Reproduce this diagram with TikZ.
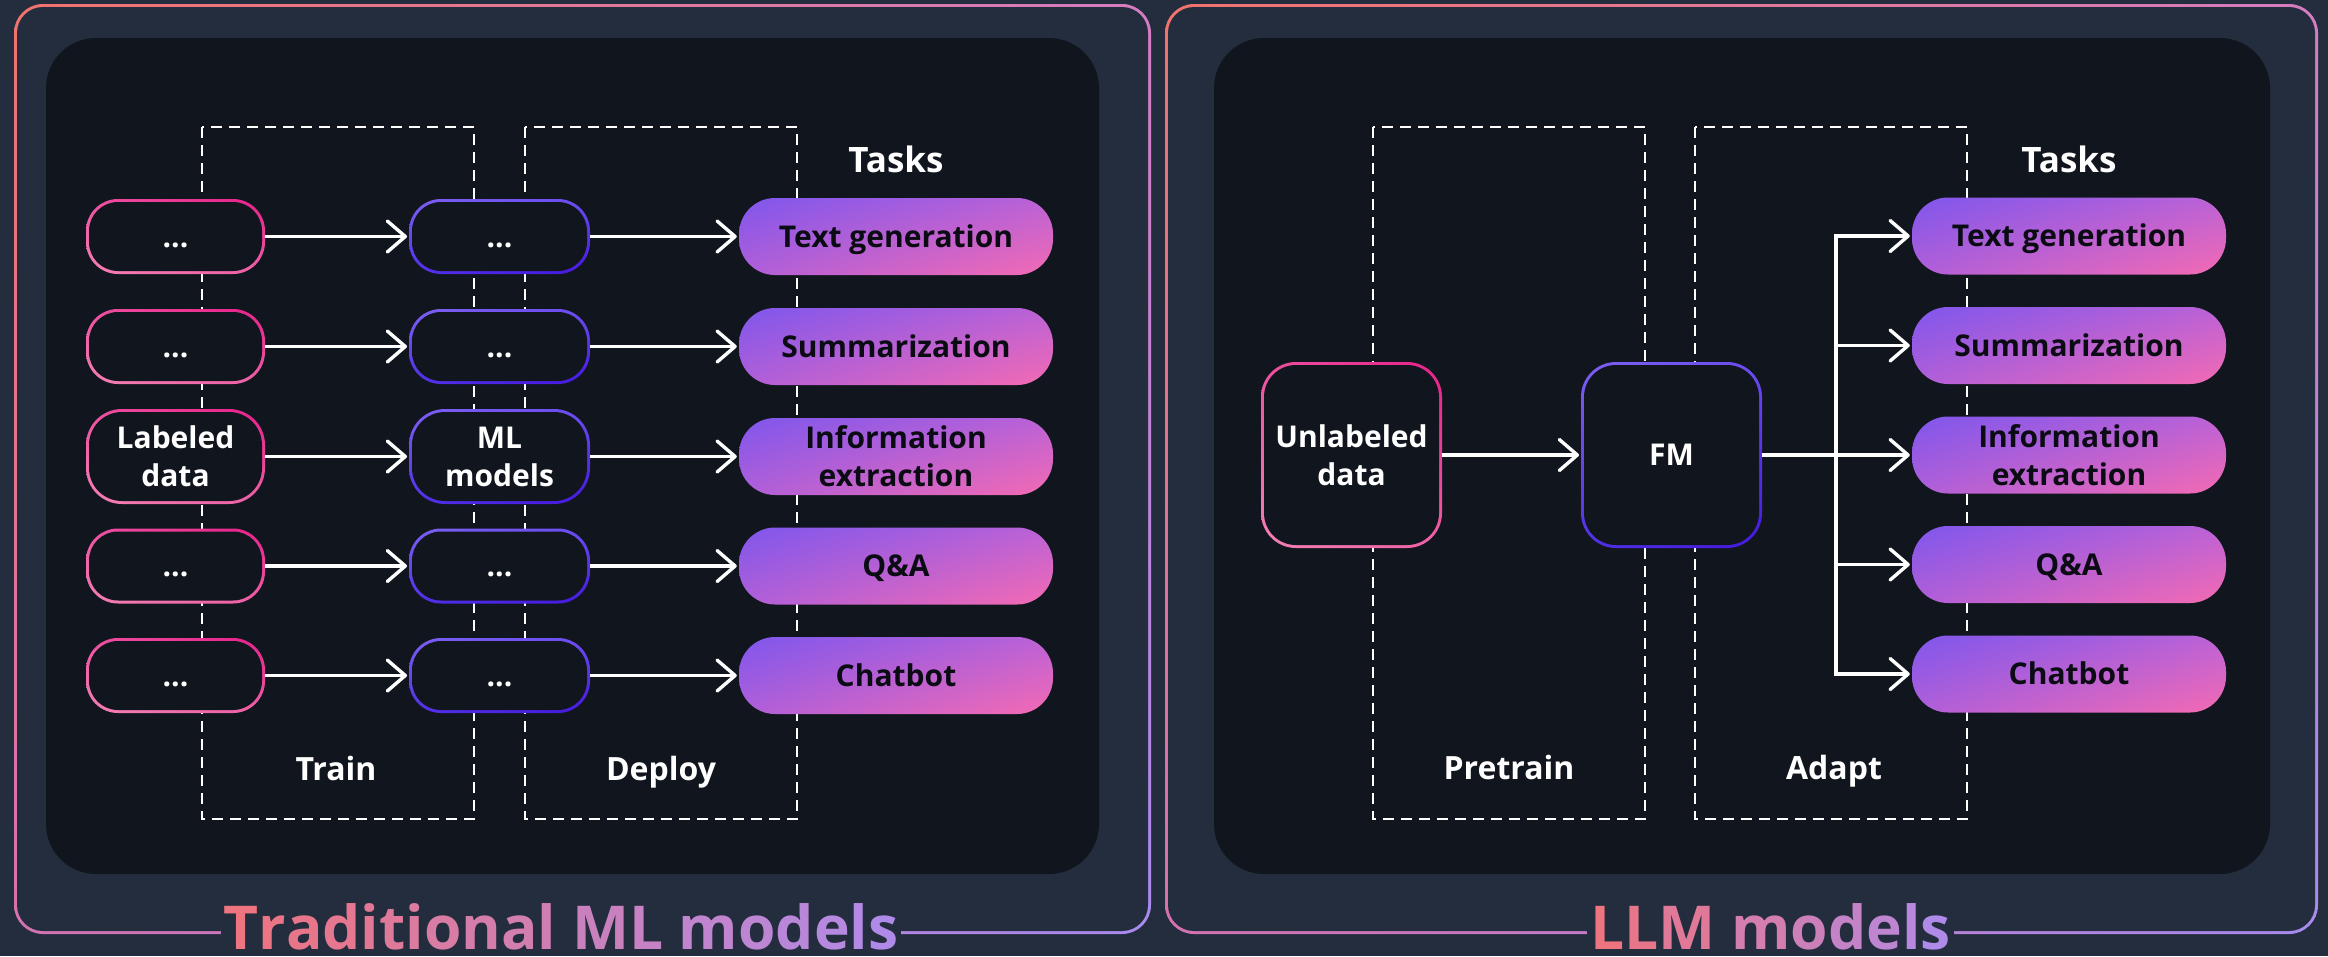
\documentclass[tikz,border=0pt]{standalone}
\usepackage{fontspec}
\setmainfont{Open Sans}
\usetikzlibrary{arrows.meta,shadings}

\definecolor{slate}{HTML}{232D3E}
\definecolor{panel}{HTML}{11161E}
% frame gradient corners
\definecolor{brA}{HTML}{F2736E}
\definecolor{brB}{HTML}{D47CC0}
\definecolor{brC}{HTML}{D472B0}
\definecolor{brD}{HTML}{A88AEE}
% task pill gradient corners
\definecolor{tkA}{HTML}{7F56EC}
\definecolor{tkB}{HTML}{BC62D6}
\definecolor{tkC}{HTML}{B05FD9}
\definecolor{tkD}{HTML}{F46AB2}
% pink outline
\definecolor{pkA}{HTML}{EE50A0}
\definecolor{pkB}{HTML}{E6208A}
\definecolor{pkC}{HTML}{F380B4}
\definecolor{pkD}{HTML}{EE60A6}
% violet outline
\definecolor{puA}{HTML}{7C60F2}
\definecolor{puB}{HTML}{6A4CF0}
\definecolor{puC}{HTML}{5030E6}
\definecolor{puD}{HTML}{4418DF}
% heading gradient ends
\definecolor{ttA}{HTML}{EE7480}
\definecolor{ttB}{HTML}{B08AE8}
\definecolor{ink}{HTML}{0B0B14}

\pgfdeclarelayer{back}
\pgfdeclarelayer{mid}
\pgfsetlayers{back,mid,main}

% one letter of a heading, #1 = percent of the violet end
\newcommand\gl[2]{\textcolor{ttB!#1!ttA}{#2}}

\tikzset{
  txt/.style={text=white, font=\bfseries\fontsize{30}{38}\selectfont,
    align=center, inner sep=0pt},
  one/.style={text height=21.4pt, text depth=0pt},
  pinkbox/.style={txt, fill=panel, rounded corners=29pt,
    minimum width=173pt, minimum height=69pt, outer sep=3pt},
  purbox/.style={pinkbox, minimum width=175pt},
  bigbox/.style={txt, fill=panel, rounded corners=32pt,
    minimum width=175pt, minimum height=180pt, outer sep=3pt},
  taskbox/.style={txt, text=ink, rounded corners=36pt,
    minimum width=314pt, minimum height=77pt,
    upper left=tkA, upper right=tkB, lower left=tkC, lower right=tkD},
  pinkline/.style={upper left=pkA, upper right=pkB, lower left=pkC, lower right=pkD},
  purline/.style={upper left=puA, upper right=puB, lower left=puC, lower right=puD},
  dashrect/.style={draw=white, line width=2.5pt, dash pattern=on 11pt off 7pt},
  arr/.style={draw=white, line width=3.4pt, shorten >=2pt,
    -{Straight Barb[length=18pt, width=31pt, round]}},
  head/.style={text=white, inner sep=0pt, font=\bfseries\fontsize{35}{40}\selectfont},
  phase/.style={text=white, inner sep=0pt, font=\bfseries\fontsize{32}{38}\selectfont},
  ttl/.style={fill=slate, inner xsep=3pt, inner ysep=1pt,
    font=\bfseries\fontsize{60.5}{66}\selectfont},
}

\begin{document}
\begin{tikzpicture}[x=1pt,y=-1pt]
\useasboundingbox (0,0) rectangle (2328,956);

\begin{pgfonlayer}{back}
  \fill[slate] (0,0) rectangle (2328,956);
  % gradient frames
  \shade[rounded corners=29pt, upper left=brA, upper right=brB, lower left=brC, lower right=brD]
    (14,4) rectangle (1151,934);
  \fill[slate, rounded corners=26pt] (17,7) rectangle (1148,931);
  \shade[rounded corners=29pt, upper left=brA, upper right=brB, lower left=brC, lower right=brD]
    (1165,4) rectangle (2318,934);
  \fill[slate, rounded corners=26pt] (1168,7) rectangle (2315,931);
  % dark panels
  \fill[panel, rounded corners=50pt] (46,38) rectangle (1099,874);
  \fill[panel, rounded corners=50pt] (1214,38) rectangle (2270,874);
  % stage frames
  \draw[dashrect] (202,127) rectangle (474,819);
  \draw[dashrect] (525,127) rectangle (797,819);
  \draw[dashrect] (1373,127) rectangle (1645,819);
  \draw[dashrect] (1695,127) rectangle (1967,819);
\end{pgfonlayer}

% ---------- traditional pipeline ----------
\node[pinkbox, one] (d1) at (175.5,236.5) {...};
\node[pinkbox, one] (d2) at (175.5,346.5) {...};
\node[pinkbox, minimum height=89pt, rounded corners=33pt] (d3) at (175.5,456.5) {Labeled\\data};
\node[pinkbox, one] (d4) at (175.5,566) {...};
\node[pinkbox, one] (d5) at (175.5,675.5) {...};

\node[purbox, one] (m1) at (499.5,236.5) {...};
\node[purbox, one] (m2) at (499.5,346.5) {...};
\node[purbox, minimum height=89pt, rounded corners=33pt] (m3) at (499.5,456.5) {ML\\models};
\node[purbox, one] (m4) at (499.5,566) {...};
\node[purbox, one] (m5) at (499.5,675.5) {...};

\node[taskbox, one] (t1) at (896,236.5) {Text generation};
\node[taskbox, one] (t2) at (896,346.5) {Summarization};
\node[taskbox] (t3) at (896,456.5) {Information\\extraction};
\node[taskbox, one] (t4) at (896,566) {Q\&A};
\node[taskbox, one] (t5) at (896,675.5) {Chatbot};

\node[head, anchor=base] (hl) at (896,172) {Tasks};
\node[phase, anchor=base] (pl1) at (336,780) {Train};
\node[phase, anchor=base] (pl2) at (661,780) {Deploy};

\foreach \i in {1,...,5} {
  \draw[arr] (d\i.east) -- (m\i.west);
  \draw[arr] (m\i.east) -- (t\i.west);
}

% ---------- foundation model pipeline ----------
\node[bigbox] (ud) at (1351.5,455) {Unlabeled\\data};
\node[bigbox, one] (fm) at (1671.5,455) {FM};

\node[taskbox, one] (r1) at (2069,236) {Text generation};
\node[taskbox, one] (r2) at (2069,345.5) {Summarization};
\node[taskbox] (r3) at (2069,455) {Information\\extraction};
\node[taskbox, one] (r4) at (2069,564.5) {Q\&A};
\node[taskbox, one] (r5) at (2069,674) {Chatbot};

\node[head, anchor=base] (hr) at (2069,172) {Tasks};
\node[phase, anchor=base] (pr1) at (1509,779) {Pretrain};
\node[phase, anchor=base] (pr2) at (1834,779) {Adapt};

\coordinate (br) at (1836,455);
\draw[arr] (ud.east) -- (fm.west);
\draw[arr] (fm.east) -- (r3.west);
\foreach \i in {1,2,4,5} \draw[arr] (fm.east) -- (br) |- (r\i.west);

% gradient outlines under the node fills
\begin{pgfonlayer}{mid}
  \foreach \n in {d1,d2,d4,d5}
    \shade[rounded corners=32pt, pinkline] (\n.south west) rectangle (\n.north east);
  \shade[rounded corners=36pt, pinkline] (d3.south west) rectangle (d3.north east);
  \foreach \n in {m1,m2,m4,m5}
    \shade[rounded corners=32pt, purline] (\n.south west) rectangle (\n.north east);
  \shade[rounded corners=36pt, purline] (m3.south west) rectangle (m3.north east);
  \shade[rounded corners=35pt, pinkline] (ud.south west) rectangle (ud.north east);
  \shade[rounded corners=35pt, purline] (fm.south west) rectangle (fm.north east);
\end{pgfonlayer}

% ---------- headings over the frame bottoms ----------
\node[ttl, anchor=base] (ttlL) at (561,949) {\gl{0}{T}\gl{5}{r}\gl{10}{a}\gl{15}{d}\gl{20}{i}\gl{25}{t}\gl{30}{i}\gl{35}{o}\gl{40}{n}\gl{45}{a}\gl{50}{l} \gl{60}{M}\gl{65}{L} \gl{75}{m}\gl{80}{o}\gl{85}{d}\gl{90}{e}\gl{95}{l}\gl{100}{s}};
\node[ttl, anchor=base] (ttlR) at (1770.5,949) {\gl{0}{L}\gl{11}{L}\gl{22}{M} \gl{44}{m}\gl{56}{o}\gl{67}{d}\gl{78}{e}\gl{89}{l}\gl{100}{s}};
\end{tikzpicture}
\end{document}
